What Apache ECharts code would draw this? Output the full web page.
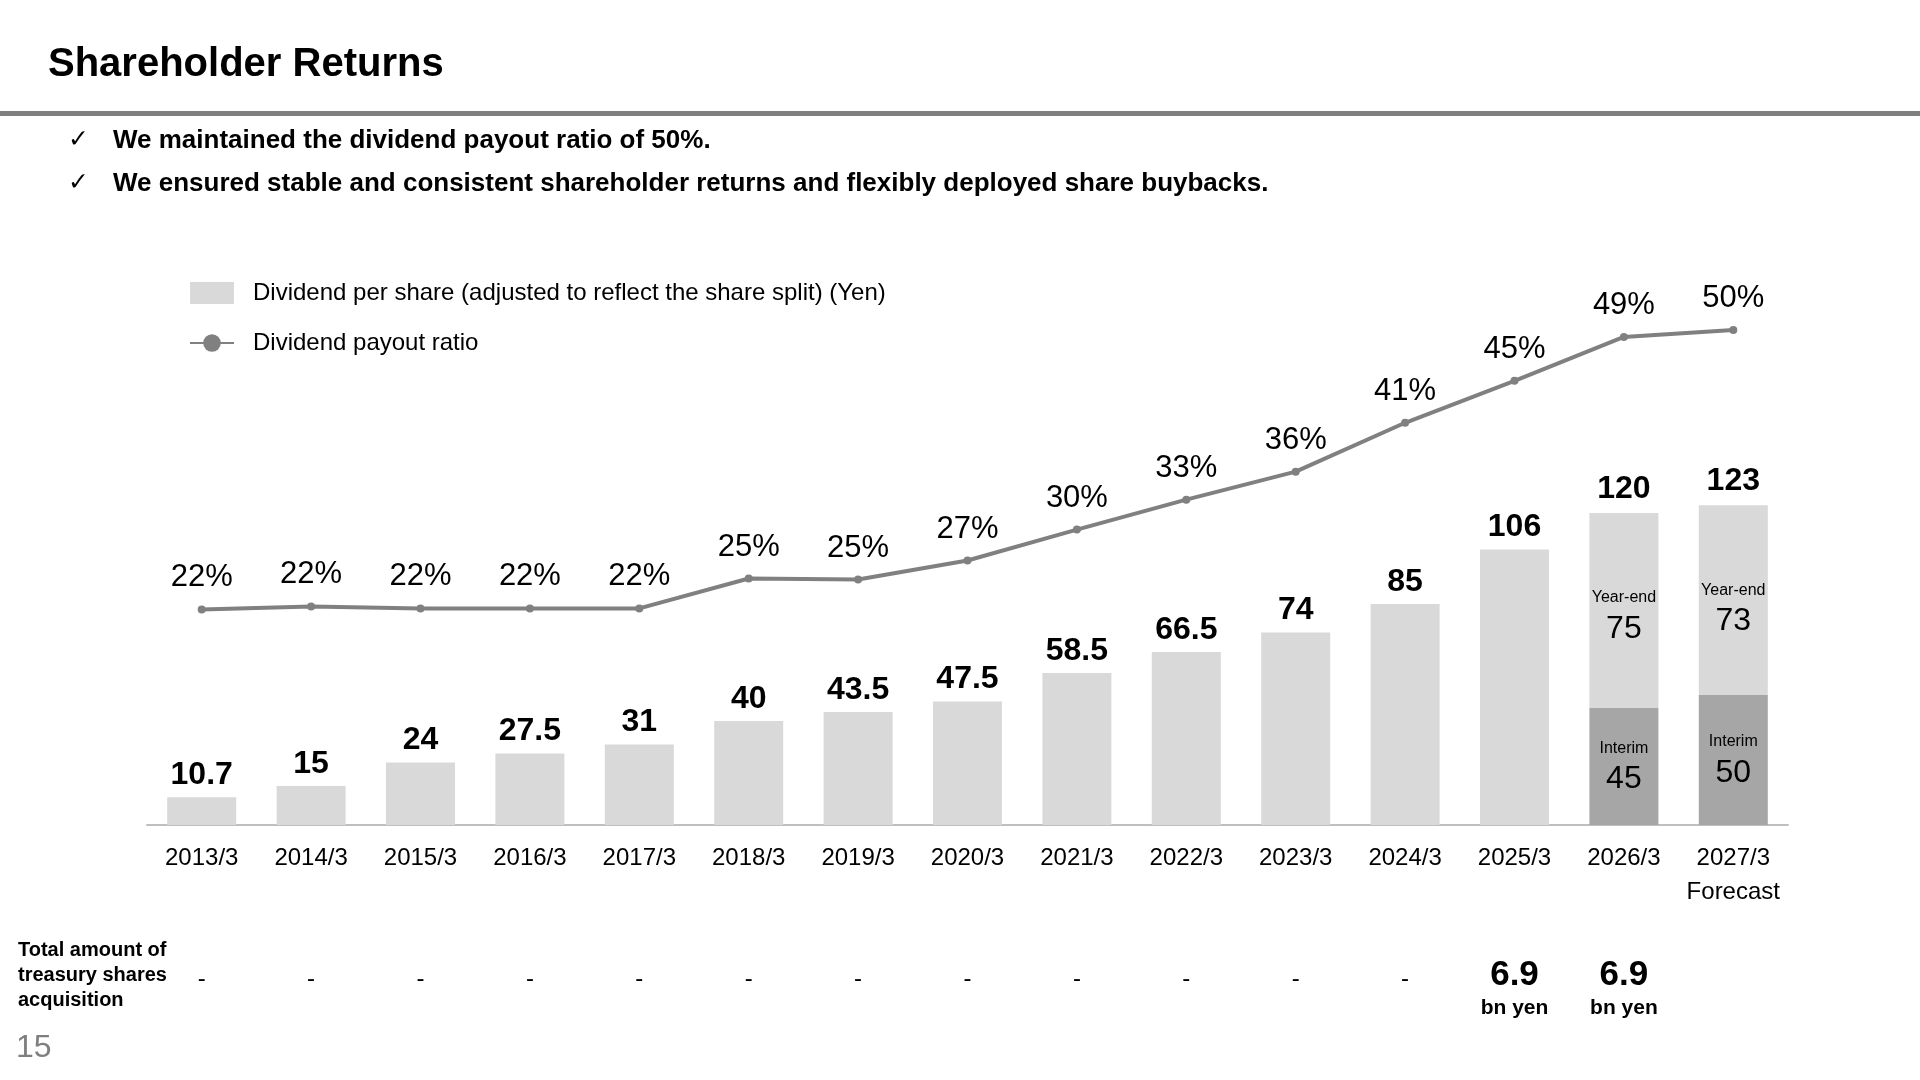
<!DOCTYPE html>
<html>
<head>
<meta charset="utf-8">
<script src="https://cdn.jsdelivr.net/npm/echarts@6/dist/echarts.min.js"></script>
<style>
html,body{margin:0;padding:0;background:#fff;}
#main{width:1920px;height:1080px;}
</style>
</head>
<body>
<div id="main"></div>
<script>
var categories = ['2013/3','2014/3','2015/3','2016/3','2017/3','2018/3','2019/3','2020/3','2021/3','2022/3','2023/3','2024/3','2025/3','2026/3','2027/3\nForecast'];
var dividend = [10.7, 15, 24, 27.5, 31, 40, 43.5, 47.5, 58.5, 66.5, 74, 85, 106, '-', '-'];
var interim = ['-','-','-','-','-','-','-','-','-','-','-','-','-', 45, 50];
var yearEnd = ['-','-','-','-','-','-','-','-','-','-','-','-','-', 75, 73];
var totals = ['', '', '', '', '', '', '', '', '', '', '', '', '', '120', '123'];
var payout = [21.6, 21.9, 21.7, 21.7, 21.7, 24.7, 24.6, 26.5, 29.6, 32.6, 35.4, 40.3, 44.5, 48.9, 49.6];
var payoutLabels = ['22%','22%','22%','22%','22%','25%','25%','27%','30%','33%','36%','41%','45%','49%','50%'];
var acquisition = ['-','-','-','-','-','-','-','-','-','-','-','-','6.9','6.9',''];

var myChart = echarts.init(document.getElementById('main'));
var font = 'Liberation Sans, Arial, sans-serif';

option = {
	textStyle: { fontFamily: font },
	animation: false,
	title: {
		text: 'Shareholder Returns',
		left: 43, top: 40,
		textStyle: { fontSize: 40, fontWeight: 'bold', color: '#000', fontFamily: font }
	},
	graphic: [
		{ type: 'rect', shape: { x: 0, y: 111, width: 1920, height: 5 }, style: { fill: '#7f7f7f' } },
		{ type: 'text', left: 68, top: 128, style: { text: '\u2713', fill: '#000', font: '25px DejaVu Sans' } },
		{ type: 'text', left: 113, top: 128, style: { text: 'We maintained the dividend payout ratio of 50%.', fill: '#000', font: 'bold 26px ' + font } },
		{ type: 'text', left: 68, top: 171, style: { text: '\u2713', fill: '#000', font: '25px DejaVu Sans' } },
		{ type: 'text', left: 113, top: 171, style: { text: 'We ensured stable and consistent shareholder returns and flexibly deployed share buybacks.', fill: '#000', font: 'bold 26px ' + font } },
		{ type: 'text', left: 18, top: 938, style: { text: 'Total amount of\ntreasury shares\nacquisition', fill: '#000', font: 'bold 20px ' + font, lineHeight: 25 } },
		{ type: 'text', left: 16, top: 1032, style: { text: '15', fill: '#7f7f7f', font: '32px ' + font } }
	],
	legend: {
		orient: 'vertical',
		left: 184, top: 276,
		itemGap: 26,
		itemWidth: 44, itemHeight: 22,
		data: [
			{ name: 'Dividend per share (adjusted to reflect the share split) (Yen)', icon: 'rect' },
			'Dividend payout ratio'
		],
		textStyle: { fontSize: 24, color: '#000', fontFamily: font, padding: [0, 0, 0, 14] }
	},
	grid: { left: 147, right: 132, top: 305, bottom: 255 },
	xAxis: [{
		type: 'category',
		data: categories,
		axisLine: { lineStyle: { color: '#bfbfbf', width: 2 } },
		axisTick: { show: false },
		axisLabel: { interval: 0, fontSize: 24, color: '#000', margin: 16, lineHeight: 34, fontFamily: font }
	}, {
		type: 'category',
		position: 'bottom',
		offset: 122,
		data: acquisition,
		axisLine: { show: false },
		axisTick: { show: false },
		axisLabel: {
			interval: 0,
			formatter: function(v) { return v === '-' ? '{d|-}' : (v ? '{b|' + v + '}\n{s|bn yen}' : ''); },
			rich: {
				d: { fontSize: 24, color: '#000', fontFamily: font, padding: [12, 0, 0, 0] },
				b: { fontSize: 35, fontWeight: 'bold', color: '#000', lineHeight: 40, fontFamily: font },
				s: { fontSize: 21, fontWeight: 'bold', color: '#000', lineHeight: 26, fontFamily: font }
			}
		}
	}],
	yAxis: [
		{ type: 'value', min: 0, max: 200, show: false, splitLine: { show: false } },
		{ type: 'value', min: 0, max: 52.1, show: false, splitLine: { show: false } }
	],
	series: [{
		name: 'Dividend per share (adjusted to reflect the share split) (Yen)',
		type: 'bar',
		stack: 'd',
		barWidth: 69,
		data: dividend,
		itemStyle: { color: '#d9d9d9' },
		label: { show: true, position: 'top', distance: 6, fontSize: 32, fontWeight: 'bold', color: '#000', fontFamily: font }
	}, {
		name: 'Interim',
		type: 'bar',
		stack: 'd',
		barWidth: 69,
		data: interim,
		itemStyle: { color: '#a6a6a6' },
		label: {
			show: true, position: 'inside',
			formatter: '{s|Interim}\n{n|{c}}',
			rich: {
				s: { fontSize: 16, color: '#000', lineHeight: 26, fontFamily: font },
				n: { fontSize: 32, color: '#000', lineHeight: 36, fontFamily: font }
			}
		}
	}, {
		name: 'Year-end',
		type: 'bar',
		stack: 'd',
		barWidth: 69,
		data: yearEnd,
		itemStyle: { color: '#d9d9d9' },
		label: {
			show: true, position: 'insideTop', distance: 72,
			formatter: '{s|Year-end}\n{n|{c}}',
			rich: {
				s: { fontSize: 16, color: '#000', lineHeight: 26, fontFamily: font },
				n: { fontSize: 32, color: '#000', lineHeight: 36, fontFamily: font }
			}
		}
	}, {
		name: 'Totals',
		type: 'bar',
		stack: 'd',
		barWidth: 69,
		data: totals.map(function(t) { return t ? 0 : '-'; }),
		itemStyle: { color: 'transparent' },
		label: {
			show: true, position: 'top', distance: 8,
			formatter: function(p) { return totals[p.dataIndex]; },
			fontSize: 32, fontWeight: 'bold', color: '#000', fontFamily: font
		}
	}, {
		name: 'Dividend payout ratio',
		type: 'line',
		yAxisIndex: 1,
		data: payout,
		symbol: 'circle',
		symbolSize: 8,
		lineStyle: { color: '#808080', width: 4 },
		itemStyle: { color: '#808080' },
		label: {
			show: true, position: 'top', distance: 12,
			formatter: function(p) { return payoutLabels[p.dataIndex]; },
			fontSize: 31, color: '#000', fontFamily: font
		}
	}]
};
myChart.setOption(option);
</script>
</body>
</html>
